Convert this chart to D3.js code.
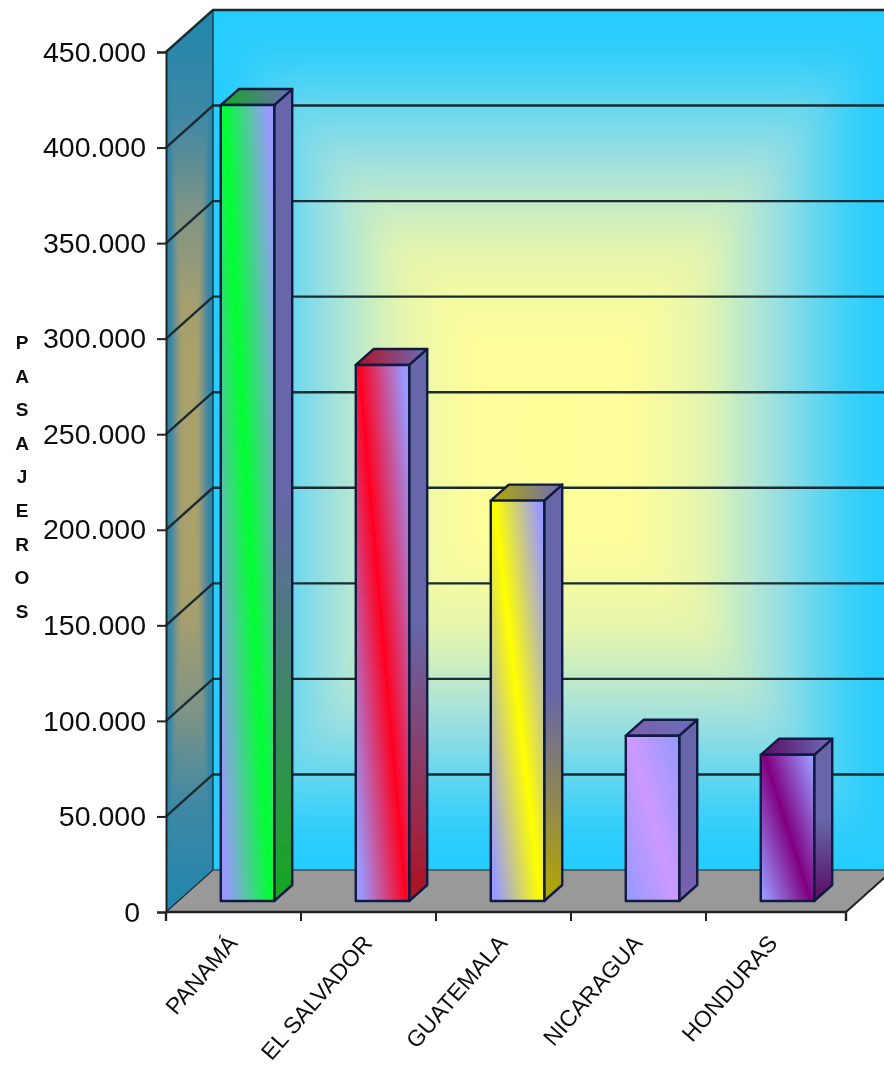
<!DOCTYPE html>
<html><head><meta charset="utf-8">
<script src="https://cdnjs.cloudflare.com/ajax/libs/d3/7.8.5/d3.min.js"></script>
<style>html,body{margin:0;padding:0;background:#fff}svg{display:block}text{font-family:"Liberation Sans",Arial,sans-serif;fill:#111}</style>
</head><body><svg id="c" width="884" height="1069"></svg>
<script>
const categories = ["PANAMÁ","EL SALVADOR","GUATEMALA","NICARAGUA","HONDURAS"];
const passengers = [416500,280500,209500,86500,76500];
const barColors = ["#00ff30","#ff0020","#ffff00","#cc99ff","#800080"];
const sideColors = ["#14a820","#b01020","#b5a800","#7a60b0","#5a0a60"];
const yTicks = [0,50000,100000,150000,200000,250000,300000,350000,400000,450000];
const yTitle = "PASAJEROS";
const lavender = "#9999ff";

const svg = d3.select("#c");
const defs = svg.append("defs");
const x0=166,x1=846,yB=912,yT=52,DX=47,DY=42,dx=18,dy=16,fdx=14,fdy=11;
const x = d3.scaleBand().domain(categories).range([x0,841]).paddingInner(0.604).paddingOuter(0.302);
const y = d3.scaleLinear().domain([0,450000]).range([yB,yT]);
const w = x.bandwidth();
const P = a=>a.map(p=>p.join(",")).join(" ");

defs.append("filter").attr("id","soft").attr("x",0).attr("y",0).attr("width",1).attr("height",1)
  .append("feGaussianBlur").attr("stdDeviation",0.6);
defs.append("filter").attr("id","wide").attr("x","-10%").attr("y","-10%").attr("width","120%").attr("height","120%")
  .append("feGaussianBlur").attr("stdDeviation",14);
defs.append("filter").attr("id","narrow").attr("x","-20%").attr("y","-10%").attr("width","140%").attr("height","120%")
  .append("feGaussianBlur").attr("stdDeviation",1.5);

// rectangular "from centre" gradient built from four triangles
function rectGradient(parent,prefix,l,t,r,b,cx,cy,stops,filterId){
  const grow=1.2, out=p=>[cx+(p[0]-cx)*grow,cy+(p[1]-cy)*grow];
  const tl=out([l,t]),tr=out([r,t]),bl=out([l,b]),br=out([r,b]);
  const tris=[
   {id:prefix+"T",b:[cx,t],pts:[[cx,cy],tl,tr]},
   {id:prefix+"B",b:[cx,b],pts:[[cx,cy],bl,br]},
   {id:prefix+"L",b:[l,cy],pts:[[cx,cy],tl,bl]},
   {id:prefix+"R",b:[r,cy],pts:[[cx,cy],tr,br]}];
  const g=parent.append("g").attr("filter",`url(#${filterId})`);
  tris.forEach(tr=>{
    const lg=defs.append("linearGradient").attr("id",tr.id).attr("gradientUnits","userSpaceOnUse")
     .attr("x1",cx).attr("y1",cy).attr("x2",tr.b[0]).attr("y2",tr.b[1]);
    stops.forEach(s=>lg.append("stop").attr("offset",s[0]).attr("stop-color",s[1]));
    g.append("polygon").attr("points",P(tr.pts)).attr("fill",`url(#${tr.id})`).attr("stroke",`url(#${tr.id})`).attr("stroke-width",1);
  });
}
const wallStops=[[0,"#ffff99"],[0.25,"#fdfd9b"],[0.45,"#e5f5ae"],[0.65,"#9fe0e0"],[0.88,"#35cffa"],[1,"#22ccff"]];
const sideStops=[[0,"#aaa068"],[0.33,"#a8a06c"],[0.55,"#7f9484"],[0.76,"#3f88a4"],[1,"#2086ad"]];
const wl=x0+DX, wr=x1+DX, wt=y(450000)-DY, wb=y(0)-DY;

const root = svg.append("g").attr("filter","url(#soft)");
const edge="#101a40";

// walls
defs.append("clipPath").attr("id","cw").append("polygon").attr("points",P([[wl,wt],[wr,wt],[wr,wb],[wl,wb]]));
defs.append("clipPath").attr("id","cl").append("polygon").attr("points",P([[x0,y(450000)],[wl,wt],[wl,wb],[x0,y(0)]]));
rectGradient(root.append("g").attr("clip-path","url(#cw)"),"w",wl,wt,wr,wb,550,440,wallStops,"wide");
rectGradient(root.append("g").attr("clip-path","url(#cl)"),"l",x0,wt,wl,y(0),(x0+wl)/2,(wt+y(0))/2,sideStops,"narrow");
root.append("polyline").attr("points",P([[wl,wb],[wl,wt],[wr,wt]])).attr("fill","none").attr("stroke","#1a2a30").attr("stroke-width",1.2);
root.append("polygon").attr("points",P([[x0,y(0)],[wl,wb],[wr,wb],[x1,y(0)]])).attr("fill","#999999");
// gridlines
root.append("g").selectAll("polyline").data(yTicks).join("polyline")
  .attr("points",d=>P([[x0,y(d)],[x0+DX,y(d)-DY],[x1+DX,y(d)-DY]]))
  .attr("fill","none").attr("stroke","#1a2a30").attr("stroke-width",d=>d===0?1.2:2.4);
root.append("line").attr("x1",x1).attr("y1",y(0)).attr("x2",x1+DX).attr("y2",y(0)-DY).attr("stroke","#222").attr("stroke-width",2);
// bars
const items = categories.map((c,i)=>({c,v:passengers[i],col:barColors[i],side:sideColors[i],i}));
items.forEach(d=>{
  const L=x(d.c)+fdx, T=y(d.v)-fdy, B=y(0)-fdy, R=L+w;
  const ax=L+0.06*w, ay=T, bx=L+0.94*w, by=B;
  const len=Math.hypot(bx-ax,by-ay), nx=(by-ay)/len, ny=-(bx-ax)/len;
  const mx=(L+R)/2,my=(T+B)/2,hw=44;
  const gf=defs.append("linearGradient").attr("id","f"+d.i).attr("gradientUnits","userSpaceOnUse")
    .attr("x1",mx-nx*hw).attr("y1",my-ny*hw).attr("x2",mx+nx*hw).attr("y2",my+ny*hw);
  [[0,lavender],[0.5,d.col],[1,lavender]].forEach(s=>gf.append("stop").attr("offset",s[0]).attr("stop-color",s[1]));
  const gs=defs.append("linearGradient").attr("id","s"+d.i).attr("x1",0).attr("y1",0).attr("x2",0).attr("y2",1);
  [[0,"#6666a8"],[0.5,"#6666a8"],[1,d.side]].forEach(s=>gs.append("stop").attr("offset",s[0]).attr("stop-color",s[1]));
  const gt=defs.append("linearGradient").attr("id","t"+d.i).attr("x1",0).attr("y1",0).attr("x2",1).attr("y2",0);
  [[0,d.side],[1,"#6c6cb8"]].forEach(s=>gt.append("stop").attr("offset",s[0]).attr("stop-color",s[1]));
  const g=root.append("g").attr("stroke",edge).attr("stroke-width",2.4).attr("stroke-linejoin","round");
  g.append("polygon").attr("points",P([[R,T],[R+dx,T-dy],[R+dx,B-dy],[R,B]])).attr("fill",`url(#s${d.i})`);
  g.append("polygon").attr("points",P([[L,T],[L+dx,T-dy],[R+dx,T-dy],[R,T]])).attr("fill",`url(#t${d.i})`);
  g.append("rect").attr("x",L).attr("y",T).attr("width",w).attr("height",B-T).attr("fill",`url(#f${d.i})`);
});
// axes
const fmt=d3.formatLocale({decimal:",",thousands:".",grouping:[3],currency:["",""]}).format(",");
const ay=root.append("g").attr("transform",`translate(${x0},0)`)
  .call(d3.axisLeft(y).tickValues(yTicks).tickFormat(fmt).tickSize(9).tickPadding(11));
ay.selectAll("text").style("font-size","28.5px");
ay.selectAll("text").filter(d=>d===0).attr("dx",-6);
ay.selectAll("line,path").attr("stroke","#222").attr("stroke-width",2);
const ax=root.append("g").attr("transform",`translate(0,${yB})`)
  .call(d3.axisBottom(x).tickSize(0).tickPadding(0));
ax.select("path").attr("stroke","#222").attr("stroke-width",2.4).attr("d",`M${x0},0V9M${x0},0H${x1}V9`);
ax.selectAll(".tick line").remove();
ax.selectAll(null).data(categories).join("line")
  .attr("x1",c=>x(c)-x.step()*x.paddingOuter()).attr("x2",c=>x(c)-x.step()*x.paddingOuter())
  .attr("y1",0).attr("y2",9).attr("stroke","#222").attr("stroke-width",2);
ax.selectAll(".tick text")
  .attr("text-anchor","end").attr("transform","translate(5,32) rotate(-49)").attr("dy",0).attr("y",0)
  .style("font-size","23px");
// title
const t=root.append("text").attr("font-weight","bold").style("font-size","19px").attr("text-anchor","middle");
t.selectAll("tspan").data(yTitle.split("")).join("tspan").attr("x",22).attr("y",(d,i)=>349+i*33.6).text(d=>d);
</script></body></html>
